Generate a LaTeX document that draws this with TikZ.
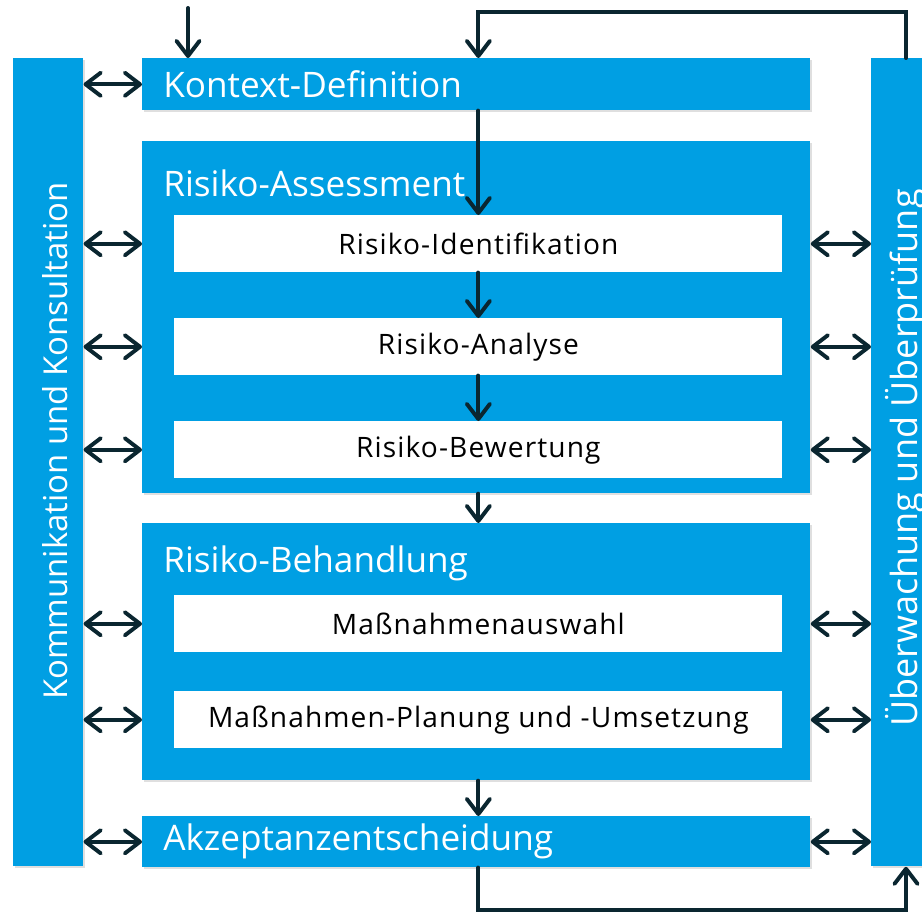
\documentclass[tikz,border=0pt]{standalone}
\usepackage{fontspec}
\setmainfont{Open Sans}
\newfontfamily\stepfam[LetterSpace=4]{Open Sans}
\usepackage{tikz}
\usetikzlibrary{arrows.meta,positioning,shadows}
\definecolor{isoblue}{RGB}{0,159,227}
\definecolor{arrdark}{HTML}{0A2630}
\newcommand{\titlefont}{\fontsize{25}{30}\selectfont}
\newcommand{\stepfont}{\stepfam\fontsize{20}{24}\selectfont}

\begin{document}
\begin{tikzpicture}[
  x=0.025cm, y=-0.025cm,
  blk/.style={rectangle, fill=isoblue, anchor=north west, inner sep=0pt,
              drop shadow={shadow xshift=1pt, shadow yshift=-1.2pt, opacity=0.25}},
  wide/.style={blk, minimum width=16.7cm, text=white, font=\titlefont},
  hbar/.style={wide, text width=15.65cm, inner xsep=0.525cm, align=left},
  vbar/.style={blk, minimum width=1.75cm, minimum height=20.2cm},
  stepbox/.style={rectangle, fill=white, anchor=north west, inner sep=0pt,
              minimum width=15.2cm, minimum height=1.425cm, font=\stepfont, text=black},
  ttl/.style={anchor=west, inner sep=0pt, text=white, font=\titlefont},
  arr/.style={-{Straight Barb[round, length=3.8mm, width=5.8mm]},
              line width=2.8pt, line cap=round, draw=arrdark},
  dbl/.style={{Straight Barb[round, length=3.8mm, width=5.8mm]}-{Straight Barb[round, length=3.8mm, width=5.8mm]},
              line width=2.8pt, line cap=round, draw=arrdark},
  vtext/.style={rotate=90, inner sep=0pt, text=white}
]
  \useasboundingbox (0,0) rectangle (922,913);
  \clip (0,0) rectangle (922,913);

  \node[vbar] (kom) at (13,58) {};
  \node[vbar] (ueb) at (871,58) {};
  \node[vtext, font=\fontsize{23.4}{28}\selectfont] (tkom) at (55,441) {Kommunikation und Konsultation};
  \node[vtext, font=\fontsize{25.6}{30}\selectfont] (tueb) at (906,458) {Überwachung und Überprüfung};

  \node[hbar, minimum height=1.3cm] (kon) at (142,58) {Kontext-Definition};
  \node[wide, minimum height=8.8cm] (ass) at (142,141) {};
  \node[ttl] (tass) at (163,183) {Risiko-Assessment};
  \node[stepbox] (rid) at (174,215) {Risiko-Identifikation};
  \node[stepbox] (ran) at (174,318) {Risiko-Analyse};
  \node[stepbox] (rbw) at (174,421) {Risiko-Bewertung};

  \node[wide, minimum height=6.425cm] (beh) at (142,523) {};
  \node[ttl] (tbeh) at (163,563) {Risiko-Behandlung};
  \node[stepbox] (mas) at (174,595) {Maßnahmenauswahl};
  \node[stepbox] (mpu) at (174,691) {Maßnahmen-Planung und -Umsetzung};

  \node[hbar, minimum height=1.275cm] (akz) at (142,816) {Akzeptanzentscheidung};

  \coordinate (in) at (188,8);
  \coordinate (lt) at (906,12);
  \coordinate (lb) at (906,910);

  \draw[arr] (in) -- (in |- kon.north);
  \draw[arr] (lt |- ueb.north) -- (lt) -| (rid.north |- kon.north);
  \draw[arr] (rid.north |- kon.south) -- (rid.north);
  \draw[arr] (rid) -- (ran);
  \draw[arr] (ran) -- (rbw);
  \draw[arr] (rid.north |- ass.south) -- (rid.north |- beh.north);
  \draw[arr] (rid.north |- beh.south) -- (rid.north |- akz.north);
  \draw[arr] (rid.north |- akz.south) |- (lb) -- (lb |- ueb.south);

  \draw[dbl] (kom.east |- kon) -- (kon.west);
  \foreach \n in {rid,ran,rbw,mas,mpu,akz}{
    \draw[dbl] (kom.east |- \n) -- (ass.west |- \n);
  }
  \foreach \n in {rid,ran,rbw,mas,mpu,akz}{
    \draw[dbl] (ass.east |- \n) -- (ueb.west |- \n);
  }
\end{tikzpicture}
\end{document}
